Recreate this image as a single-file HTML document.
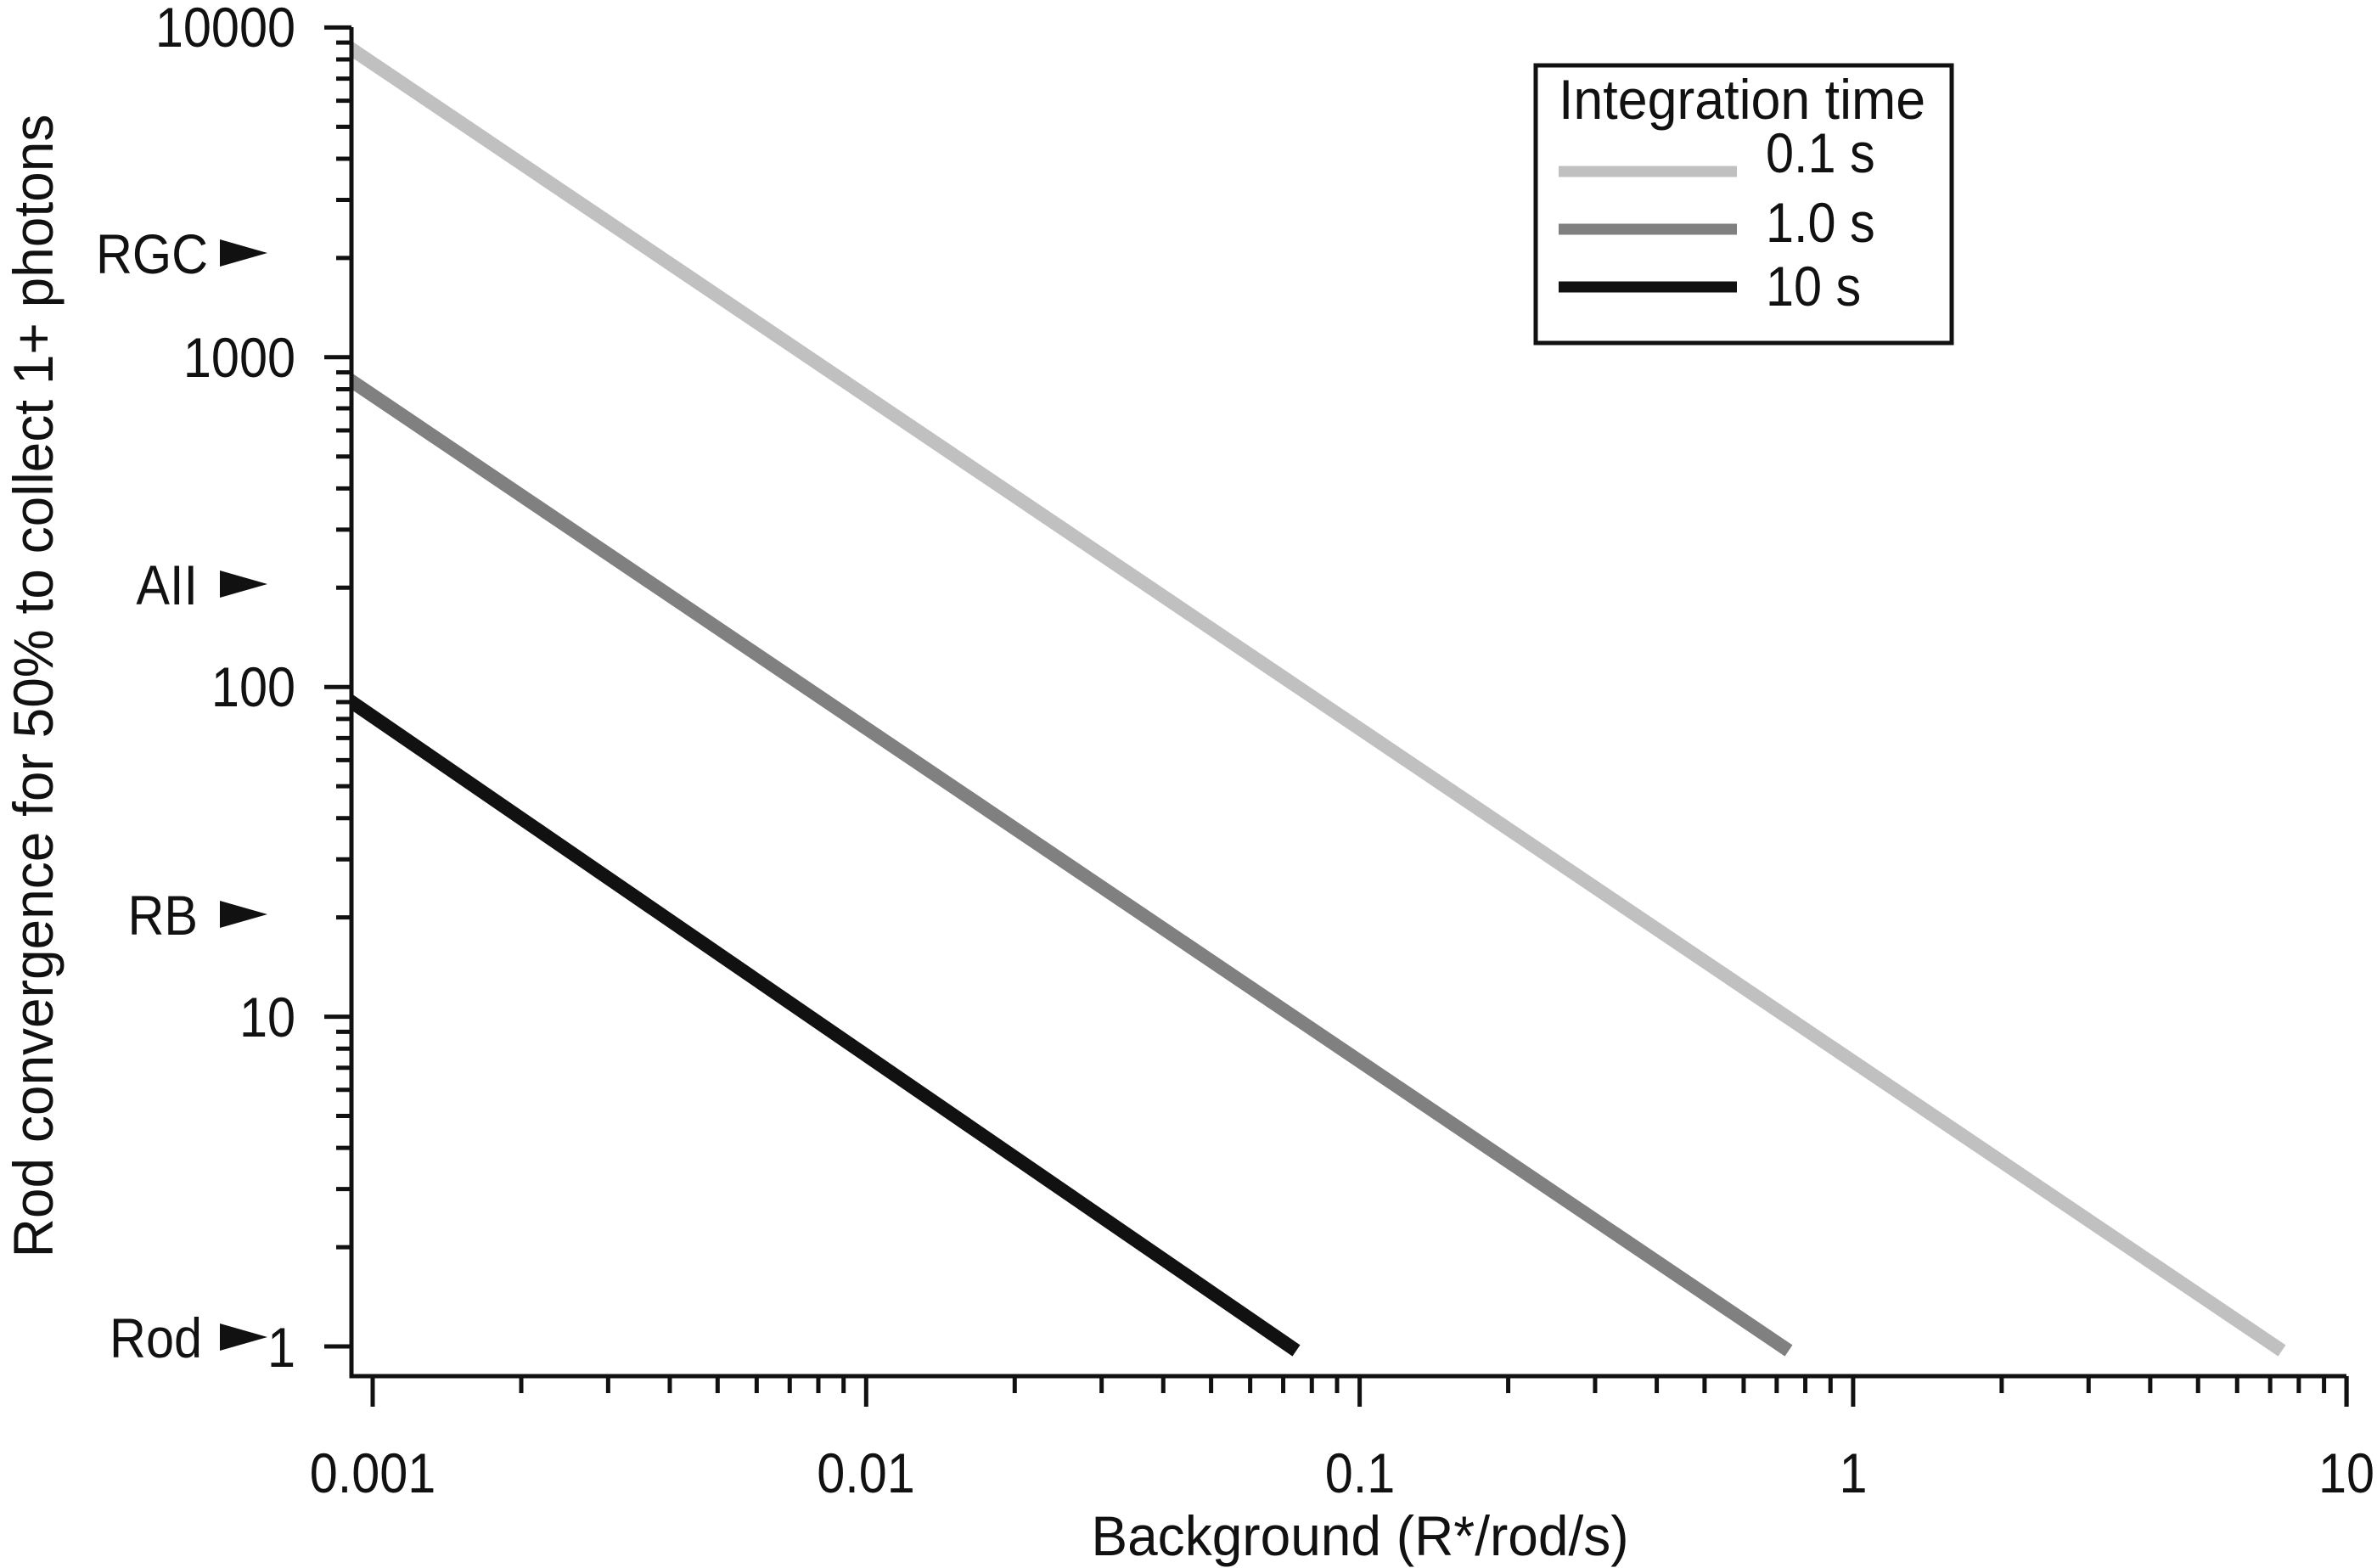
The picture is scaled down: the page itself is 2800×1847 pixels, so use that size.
<!DOCTYPE html>
<html><head><style>
html,body{margin:0;padding:0;background:#fff;}
svg{display:block;}
text{font-family:"Liberation Sans",Arial,sans-serif;fill:#111;}
</style></head><body>
<svg width="2800" height="1847" viewBox="0 0 2800 1847" xmlns="http://www.w3.org/2000/svg">
<defs><clipPath id="c"><rect x="416" y="0" width="2400" height="1618"/></clipPath></defs>
<g clip-path="url(#c)" stroke-linecap="butt">
<line x1="410" y1="55" x2="2688" y2="1591" stroke="#c0c0c0" stroke-width="16"/>
<line x1="410" y1="446" x2="2107" y2="1591" stroke="#808080" stroke-width="16"/>
<line x1="410" y1="824" x2="1527" y2="1591" stroke="#111" stroke-width="16"/>
</g>
<g stroke="#111" stroke-width="5" fill="none">
<path d="M414 32 V1621 H2764"/>
<line x1="2764" y1="1621" x2="2764" y2="1657"/>
</g>
<g id="yt" stroke="#111" stroke-width="5"></g>
<g id="xt" stroke="#111" stroke-width="5"></g>
<g font-size="66" text-anchor="end">
<text transform="translate(348,55) scale(0.9,1)">10000</text>
<text transform="translate(348,444) scale(0.9,1)">1000</text>
<text transform="translate(348,832) scale(0.9,1)">100</text>
<text transform="translate(348,1221) scale(0.9,1)">10</text>
<text transform="translate(348,1610) scale(0.9,1)">1</text>
<text transform="translate(245,322) scale(0.9,1)">RGC</text>
<text transform="translate(233,712) scale(0.9,1)">AII</text>
<text transform="translate(233,1101) scale(0.9,1)">RB</text>
<text transform="translate(238,1599) scale(0.9,1)">Rod</text>
</g>
<g fill="#111">
<polygon points="259,282 315,298 259,314"/>
<polygon points="259,672 315,688 259,704"/>
<polygon points="259,1061 315,1077 259,1093"/>
<polygon points="259,1559 315,1575 259,1591"/>
</g>
<g font-size="66" text-anchor="middle">
<text transform="translate(439,1758) scale(0.9,1)">0.001</text>
<text transform="translate(1020,1758) scale(0.9,1)">0.01</text>
<text transform="translate(1602,1758) scale(0.9,1)">0.1</text>
<text transform="translate(2183,1758) scale(0.9,1)">1</text>
<text transform="translate(2764,1758) scale(0.9,1)">10</text>
<text transform="translate(1602,1832) scale(0.97,1)">Background (R*/rod/s)</text>
<text transform="translate(62,808) rotate(-90) scale(0.97,1)">Rod convergence for 50% to collect 1+ photons</text>
</g>
<rect x="1809" y="77" width="490" height="327" fill="none" stroke="#111" stroke-width="5"/>
<g font-size="66">
<text transform="translate(1836,140) scale(0.95,1)">Integration time</text>
<text transform="translate(2080,203) scale(0.9,1)">0.1 s</text>
<text transform="translate(2080,285) scale(0.9,1)">1.0 s</text>
<text transform="translate(2080,360) scale(0.9,1)">10 s</text>
</g>
<line x1="1836" y1="202" x2="2046" y2="202" stroke="#c0c0c0" stroke-width="13"/>
<line x1="1836" y1="270" x2="2046" y2="270" stroke="#808080" stroke-width="13"/>
<line x1="1836" y1="338" x2="2046" y2="338" stroke="#111" stroke-width="13"/>
<script>
(function(){
var ns="http://www.w3.org/2000/svg";
var yt=document.getElementById('yt'),xt=document.getElementById('xt');
function ln(g,x1,y1,x2,y2){var l=document.createElementNS(ns,'line');l.setAttribute('x1',x1);l.setAttribute('y1',y1);l.setAttribute('x2',x2);l.setAttribute('y2',y2);g.appendChild(l);}
var y1=1586,yd=388.4;
for(var d=0;d<=4;d++){
  var yb=y1-d*yd; ln(yt,382,yb,414,yb);
  if(d<4)for(var m=2;m<=9;m++){var y=yb-Math.log10(m)*yd;ln(yt,396,y,414,y);}
}
var x0=439,xd=581.3;
for(var d=0;d<=4;d++){
  var xb=x0+d*xd; ln(xt,xb,1621,xb,1657);
  if(d<4)for(var m=2;m<=9;m++){var x=xb+Math.log10(m)*xd;ln(xt,x,1621,x,1641);}
}
})();
</script>
</svg>
</body></html>
